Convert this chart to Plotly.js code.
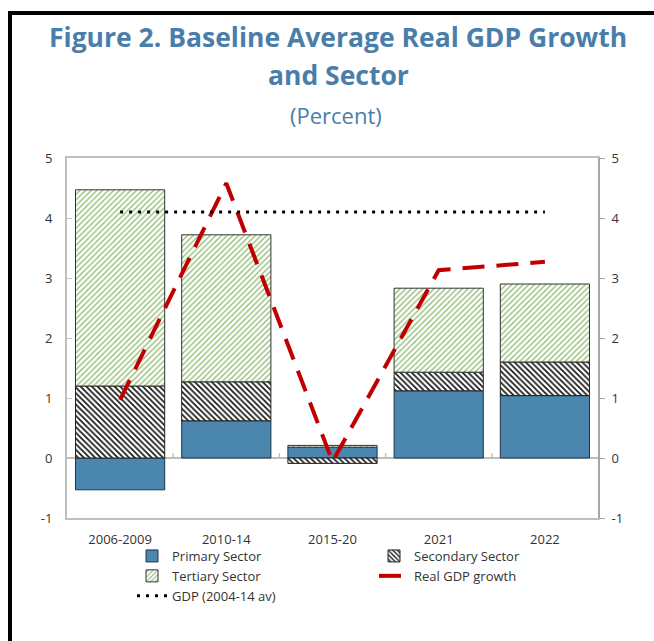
<!DOCTYPE html>
<html>
<head>
<meta charset="utf-8">
<script src="https://cdn.plot.ly/plotly-3.0.1.min.js"></script>
<style>
html,body{margin:0;padding:0;background:#fff;}
#frame{position:absolute;left:8px;top:11px;width:660px;height:640px;border-left:4px solid #000;border-top:4px solid #000;box-sizing:border-box;}
#chart{position:absolute;left:0;top:0;width:654px;height:641px;}
</style>
</head>
<body>
<div id="chart"></div>
<div id="frame"></div>
<script>
const categories = ["2006-2009", "2010-14", "2015-20", "2021", "2022"];
const primarySector = [-0.53, 0.62, 0.18, 1.12, 1.04];
const secondarySector = [1.20, 0.65, -0.09, 0.31, 0.56];
const tertiarySector = [3.27, 2.45, 0.03, 1.40, 1.30];
const realGdpGrowth = [0.97, 4.58, -0.06, 3.13, 3.27];
const gdpAverage = [4.1, 4.1, 4.1, 4.1, 4.1];
const yTicks = [-1, 0, 1, 2, 3, 4, 5];
const yTickLabels = ["-1", "0", "1", "2", "3", "4", "5"];

const font = "'Open Sans', 'Noto Sans', sans-serif";
const titleColor = "#4A7EAA";

const traces = [
  {type: "bar", name: "Primary Sector", x: categories, y: primarySector, legend: "legend",
   marker: {color: "#4A86AD", line: {color: "#1E3445", width: 1}}},
  {type: "bar", name: "Secondary Sector", x: categories, y: secondarySector, legend: "legend2",
   marker: {color: "#ffffff", line: {color: "#222", width: 1},
     pattern: {shape: "\\", fgcolor: "#111", bgcolor: "#ffffff", size: 4, solidity: 0.4}}},
  {type: "bar", name: "Tertiary Sector", x: categories, y: tertiarySector, legend: "legend",
   marker: {color: "#ffffff", line: {color: "#333", width: 1},
     pattern: {shape: "/", fgcolor: "#93BE78", bgcolor: "#ffffff", size: 4, solidity: 0.35}}},
  {type: "scatter", mode: "lines", name: "Real GDP growth", x: categories, y: realGdpGrowth,
   legend: "legend2", line: {color: "#C00000", width: 4, dash: "22px,12px"}},
  {type: "scatter", mode: "lines", name: "GDP (2004-14 av)", x: categories, y: gdpAverage,
   legend: "legend", line: {color: "#000", width: 3, dash: "3px,6px"}},
  {type: "scatter", mode: "lines", x: categories, y: gdpAverage, yaxis: "y2",
   showlegend: false, hoverinfo: "skip", line: {width: 0}, opacity: 0}
];

const shapes = [0.5, 1.5, 2.5, 3.5].map(b => ({
  type: "line", xref: "x", yref: "y", x0: b, x1: b, y0: 0, y1: 0.08,
  line: {color: "#BFBFBF", width: 1.5}
}));

function py(pixelY) { return (518 - pixelY) / 360; }
function px(pixelX) { return (pixelX - 67) / 531; }

const legendBase = {
  orientation: "v", xanchor: "left", yanchor: "top", y: py(541),
  traceorder: "normal", font: {size: 13, color: "#333"}, tracegroupgap: 0,
  itemwidth: 30, bgcolor: "rgba(0,0,0,0)"
};

const layout = {
  width: 654, height: 641,
  margin: {l: 67, r: 56, t: 158, b: 123},
  paper_bgcolor: "#fff", plot_bgcolor: "#fff",
  font: {family: font, size: 13, color: "#333"},
  barmode: "relative",
  bargap: 0.16,
  annotations: [
    {text: "<b>Figure 2. Baseline Average Real GDP Growth</b>", xref: "paper", yref: "paper",
     x: px(338), y: py(37), xanchor: "center", yanchor: "middle", showarrow: false,
     font: {family: font, size: 26.5, color: titleColor}},
    {text: "<b>and Sector</b>", xref: "paper", yref: "paper",
     x: px(338), y: py(75), xanchor: "center", yanchor: "middle", showarrow: false,
     font: {family: font, size: 26.5, color: titleColor}},
    {text: "(Percent)", xref: "paper", yref: "paper", x: px(336), y: py(115),
     xanchor: "center", yanchor: "middle", showarrow: false,
     font: {family: font, size: 22, color: titleColor}}
  ],
  xaxis: {
    type: "category", showgrid: false, showline: true, mirror: true,
    linecolor: "#BFBFBF", linewidth: 2, ticks: "", ticklabelstandoff: 8,
    tickfont: {size: 13, color: "#333"}, fixedrange: true
  },
  yaxis: {
    range: [-1, 5], tickvals: yTicks, ticktext: yTickLabels, showgrid: false, showline: true,
    linecolor: "#BFBFBF", linewidth: 2, ticks: "inside", ticklen: 5, tickcolor: "#BFBFBF",
    zeroline: true, zerolinecolor: "#BFBFBF", zerolinewidth: 2,
    ticklabelstandoff: 10, tickfont: {size: 13, color: "#333"}
  },
  yaxis2: {
    range: [-1, 5], tickvals: yTicks, ticktext: yTickLabels, overlaying: "y", side: "right",
    showgrid: false, showline: true, linecolor: "#A6A6A6", linewidth: 2, ticks: "outside",
    ticklen: 5, tickcolor: "#A6A6A6", zeroline: false, ticklabelstandoff: 4,
    tickfont: {size: 13, color: "#333"}
  },
  legend: Object.assign({}, legendBase, {x: px(132)}),
  legend2: Object.assign({}, legendBase, {x: px(374)}),
  shapes: shapes,
  showlegend: true
};

Plotly.newPlot("chart", traces, layout, {displayModeBar: false, staticPlot: true});
</script>
</body>
</html>
